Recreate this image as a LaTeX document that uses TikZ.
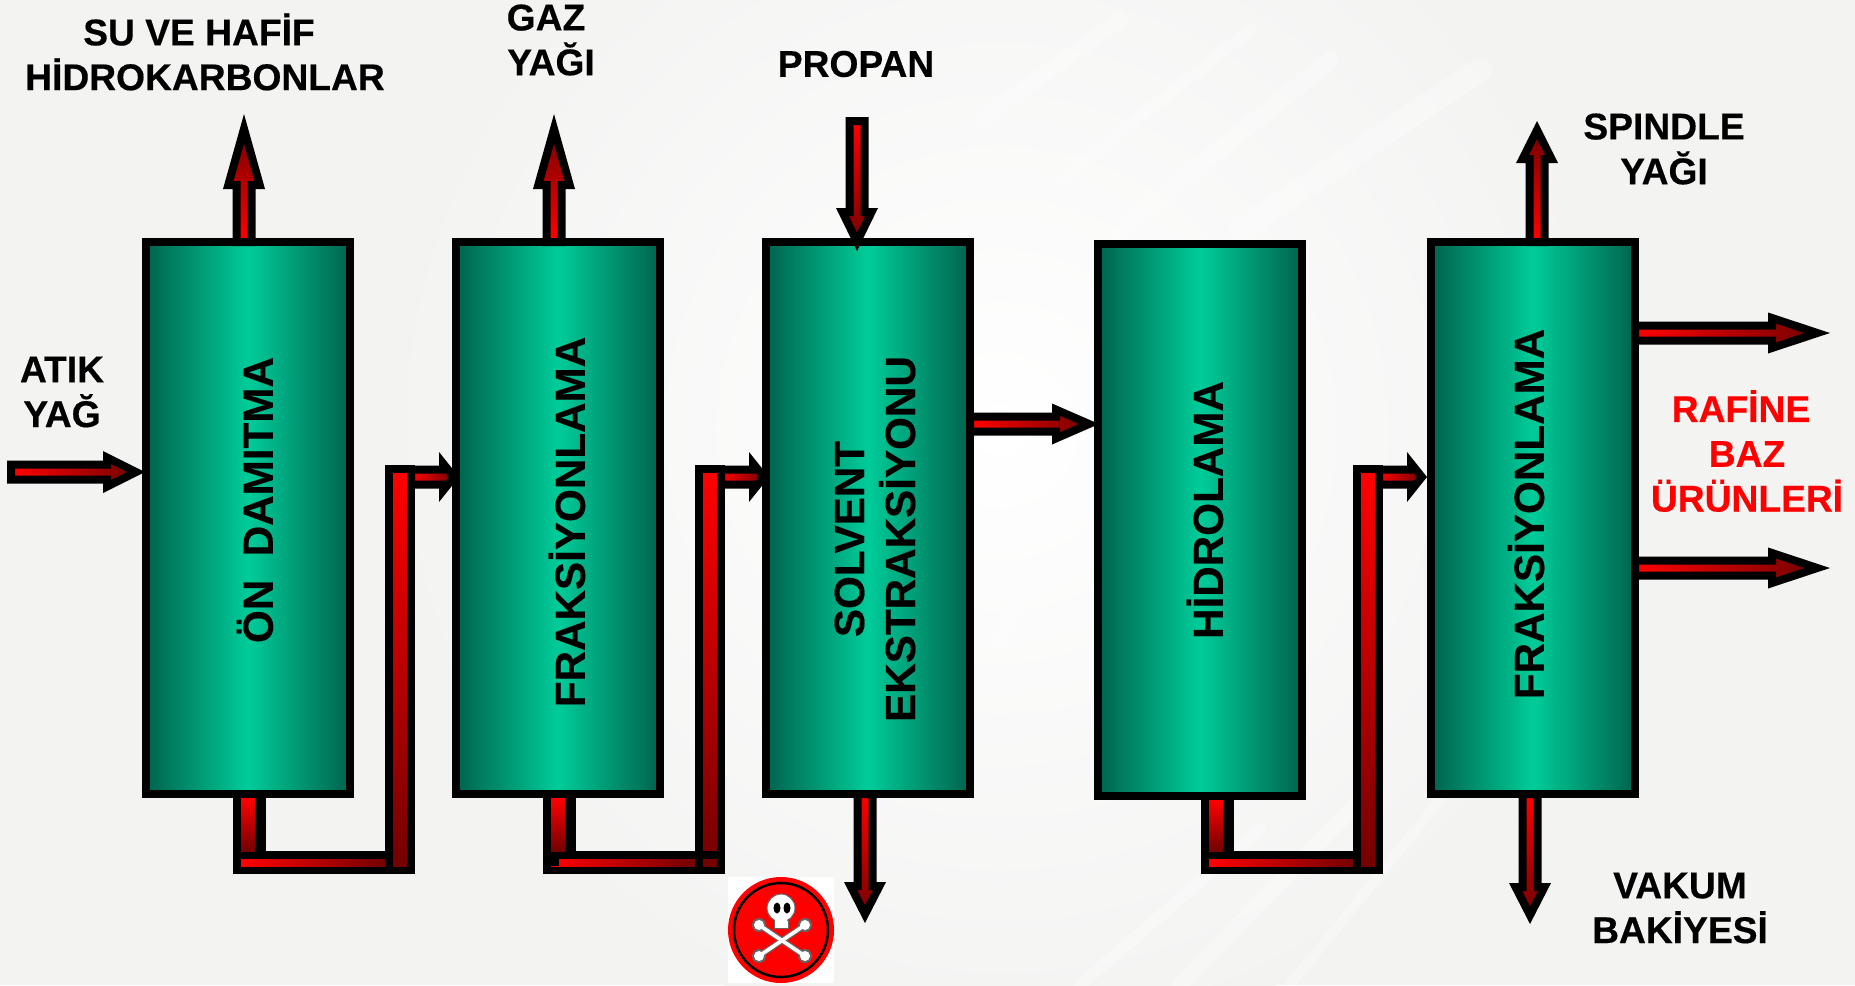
\documentclass[tikz,border=0pt]{standalone}
\usepackage{fontspec}
\setmainfont{Liberation Sans}
\usetikzlibrary{positioning,calc}
\definecolor{pagegrey}{HTML}{F3F3F2}
\definecolor{towerdark}{HTML}{00634D}
\definecolor{towerbright}{HTML}{00CC99}
\definecolor{pipered}{HTML}{FF0000}
\definecolor{pipedark}{HTML}{740000}
\tikzset{
  tower/.style={draw=black,line width=4pt,minimum width=102pt,minimum height=276pt,inner sep=0pt,
    left color=towerdark,right color=towerdark,middle color=towerbright},
  towertext/.style={rotate=90,align=center,inner sep=0pt,font=\fontsize{21.1pt}{25.5pt}\selectfont\bfseries\addfontfeature{FakeBold=0.4}},
  flowtext/.style={align=center,inner sep=0pt,font=\fontsize{18.6pt}{22.4pt}\selectfont\bfseries\addfontfeature{FakeBold=0.4}},
  pipecase/.style={draw=black,line width=4pt},
  pipeN/.style={bottom color=pipered,top color=pipedark},
  pipeS/.style={top color=pipered,bottom color=pipedark},
  pipeE/.style={left color=pipered,right color=pipedark},
  bone/.style={line cap=round,line width=#1}
}
% style, from, to, head length, head half width (pt)
\newcommand{\pipearrow}[5]{%
  \pgfmathsetmacro{\headang}{atan(#5/#4)}
  \pgfmathsetmacro{\tipgap}{2/sin(\headang)}
  \pgfmathsetmacro{\headhalf}{#5*(#4-2)/#4-2/cos(\headang)}
  \pgfmathsetmacro{\baseback}{#4-2}
  \coordinate (tailP) at ($(#2)!-2pt!(#3)$);
  \coordinate (baseP) at ($(#3)!\baseback pt!(#2)$);
  \coordinate (tipP) at ($(#3)!\tipgap pt!(#2)$);
  \draw[pipecase,#1] ($(tailP)!3.75pt!90:(#3)$) -- ($(baseP)!3.75pt!90:(#3)$)
    -- ($(baseP)!\headhalf pt!90:(#3)$) -- (tipP) -- ($(baseP)!\headhalf pt!-90:(#3)$)
    -- ($(baseP)!3.75pt!-90:(#3)$) -- ($(tailP)!3.75pt!-90:(#3)$) -- cycle;
}
% from tower, to tower, drop left edge, riser left edge, tip shift
\newcommand{\elbowpipe}[5]{%
  \coordinate (dropT) at (#3,0 |- #1.south);
  \coordinate (armE) at ($(#2.west)+(#5,-41)$);
  \coordinate (armS) at ({#4+30},0 |- armE);
  \fill[black] ($(dropT)+(0,-8)$) rectangle ({#3+33},874);
  \fill[black] (#3,851) rectangle ({#4+30},874);
  \fill[black] (#4,465) rectangle ({#4+30},874);
  \shade[pipeS] ({#3+8},0 |- #1.south) rectangle ({#3+22},851);
  \shade[pipeS] ({#4+8},473) rectangle ({#4+22},866);
  \shade[pipeE] ({#3+8},859) rectangle (#4,866);
  \pipearrow{pipeE}{armS}{armE}{10}{12.5}
}

\begin{document}
\begin{tikzpicture}[x=.5pt,y=-.5pt]
\useasboundingbox (0,0) rectangle (1855,985);

% background
\fill[pagegrey] (0,0) rectangle (1855,985);
\shade[inner color=white,outer color=pagegrey] (1000,430) circle (620);
\foreach \xa/\ya/\xb/\yb/\wid in {1120/230/1330/60/9,1060/180/1250/30/6,1240/230/1480/70/12,980/120/1120/20/8,
  1180/985/1370/790/8,1290/985/1440/800/5,1080/985/1260/830/6,900/600/1040/400/10,1000/640/1080/480/7}
  \draw[white,opacity=.3,line width=\wid pt,line cap=round] (\xa,\ya) -- (\xb,\yb);

% towers
\node[tower] (ond) at (248,518) {};
\node[tower,right=49pt of ond] (fraka) {};
\node[tower,right=49pt of fraka] (solvent) {};
\node[tower,right=60pt of solvent,yshift=-1pt] (hidro) {};
\node[tower,right=60.5pt of hidro,yshift=1pt] (frakb) {};

% tower labels
\node[towertext] (ondtxt) at ($(ond.center)+(7,-18)$) {ÖN\ \ DAMITMA};
\node[towertext] (frakatxt) at ($(fraka.center)+(9,4)$) {FRAKSİYONLAMA};
\node[towertext] (solventtxt) at ($(solvent.center)+(7,21)$) {SOLVENT\\EKSTRAKSİYONU};
\node[towertext] (hidrotxt) at ($(hidro.center)+(5,-10)$) {HİDROLAMA};
\node[towertext] (frakbtxt) at ($(frakb.center)+(-7,-4)$) {FRAKSİYONLAMA};

% free ends
\coordinate (atikS) at (15,472);
\coordinate (atikE) at ($(atikS -| ond.west)+(3,0)$);
\coordinate (suS) at (244,0 |- ond.north);
\coordinate (suE) at (244,114);
\coordinate (gazS) at (554,0 |- fraka.north);
\coordinate (gazE) at (554,114);
\coordinate (propS) at (857,125);
\coordinate (propE) at (857,251);
\coordinate (wasteS) at (865,0 |- solvent.south);
\coordinate (wasteE) at (865,923);
\coordinate (hidroS) at (solvent.east |- 0,424);
\coordinate (hidroE) at ($(hidro.west |- 0,424)+(5,0)$);
\coordinate (spinS) at (1537,0 |- frakb.north);
\coordinate (spinE) at (1537,121);
\coordinate (bazaS) at (frakb.east |- 0,333);
\coordinate (bazaE) at (1830,333);
\coordinate (bazbS) at (frakb.east |- 0,568);
\coordinate (bazbE) at (1830,568);
\coordinate (vakS) at (1530,0 |- frakb.south);
\coordinate (vakE) at (1530,924);

% arrows
\pipearrow{pipeE}{atikS}{atikE}{21}{10.5}
\pipearrow{pipeN}{suS}{suE}{37.5}{10.5}
\pipearrow{pipeN}{gazS}{gazE}{37.5}{10.5}
\pipearrow{pipeS}{propS}{propE}{21.5}{10.5}
\pipearrow{pipeS}{wasteS}{wasteE}{20.5}{10.5}
\pipearrow{pipeE}{hidroS}{hidroE}{23.5}{10.25}
\pipearrow{pipeN}{spinS}{spinE}{21}{10.5}
\pipearrow{pipeE}{bazaS}{bazaE}{31}{10.25}
\pipearrow{pipeE}{bazbS}{bazbE}{31}{10.25}
\pipearrow{pipeS}{vakS}{vakE}{20.5}{10.5}

% elbows
\elbowpipe{ond}{fraka}{233}{385}{7}
\elbowpipe{fraka}{solvent}{543}{695}{7}
\elbowpipe{hidro}{frakb}{1201}{1353}{0}
\fill[black] (551,859) rectangle (559,866);
\fill[black] (703,851) rectangle (717,859);

% flow labels
\node[flowtext] (sutxt) at (205,52) {SU VE HAFİF\kern6pt\\HİDROKARBONLAR};
\node[flowtext] (gaztxt) at (551,40) {GAZ\kern5pt\\YAĞI};
\node[flowtext] (proptxt) at (856,64) {PROPAN};
\node[flowtext] (atiktxt) at (62,392) {ATIK\\YAĞ};
\node[flowtext] (spintxt) at (1664,149) {SPINDLE\\YAĞI};
\node[flowtext,text=pipered] (bazstxt) at (1747,451) {RAFİNE\kern6pt\\BAZ\\ÜRÜNLERİ};
\node[flowtext] (vaktxt) at (1680,908) {VAKUM\\BAKİYESİ};

% skull badge
\fill[white] (728,877) rectangle (834,983);
\fill[pipered] (781,930) circle (53);
\draw[black,line width=1.25pt] (781,930) circle (47);
\foreach \xa/\ya/\xb/\yb in {759/925/805/956,759/956/805/925} {
  \draw[bone=3pt,black!60] (\xa,\ya) -- (\xb,\yb);
  \fill[black!60] (\xa,\ya) circle (7) (\xb,\yb) circle (7);
}
\foreach \xa/\ya/\xb/\yb in {759/925/805/956,759/956/805/925} {
  \draw[bone=1.8pt,white] (\xa,\ya) -- (\xb,\yb);
  \fill[white] (\xa,\ya) circle (5) (\xb,\yb) circle (5);
}
\fill[white,draw=black!60,line width=.5pt] (774,916) rectangle (788,928);
\fill[white,draw=black!60,line width=.5pt] (781,908) ellipse (14 and 14);
\fill[white] (775,914) rectangle (787,926);
\fill[black] (777,908) ellipse (3.5 and 5.5);
\fill[black] (787,908) ellipse (3.5 and 5.5);
\end{tikzpicture}
\end{document}
